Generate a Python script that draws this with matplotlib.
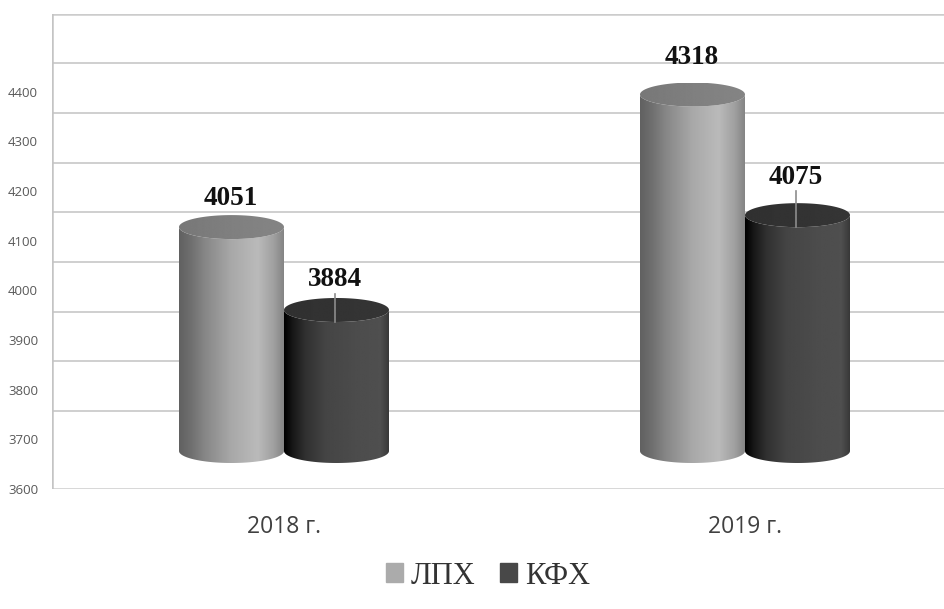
import numpy as np
import matplotlib
matplotlib.use('Agg')
from matplotlib import pyplot as plt
from matplotlib.patches import Patch, PathPatch
from matplotlib.path import Path

categories = ['2018 г.', '2019 г.']
lph = [4051, 4318]
kfh = [3884, 4075]
series_names = ['ЛПХ', 'КФХ']
ticks = [3600, 3700, 3800, 3900, 4000, 4100, 4200, 4300, 4400]

W, H = 945, 609
left, right, top, bottom = 52, 945, 14, 489
units_per_px = 1 / 0.4965
bar_lift = 38 * units_per_px     # bars stand a bit back on the floor
wall_lift = 78 * units_per_px    # back wall grid
ell_h = 24 * units_per_px
bar_w = 105 / 461

light_side = [(0, .38), (.12, .44), (.25, .53), (.5, .66), (.75, .73), (.9, .63), (1, .52)]
dark_side = [(0, .0), (.08, .09), (.2, .19), (.4, .27), (.7, .3), (.92, .31), (1, .22)]
light_top = [(0, .47), (.5, .5), (1, .52)]
dark_top = [(0, .19), (.5, .2), (1, .21)]


def gradient(stops):
    xs = np.linspace(0, 1, 256)
    g = np.interp(xs, [s[0] for s in stops], [s[1] for s in stops])
    return g[np.newaxis, :]


def half_ellipse(xc, y, rx, ry, a0, a1, n=60):
    t = np.linspace(a0, a1, n)
    return np.column_stack([xc + rx * np.cos(t), y + ry * np.sin(t)])


def cylinder(ax, xc, value, side, cap):
    base = 3600 + bar_lift
    y1 = value + bar_lift
    rx, ry = bar_w / 2, ell_h / 2
    # side wall: top arc is hidden under the cap, bottom arc bulges down
    pts = np.vstack([half_ellipse(xc, base, rx, ry, np.pi, 2 * np.pi),
                     [[xc + rx, y1]],
                     half_ellipse(xc, y1, rx, ry, 0, -np.pi),
                     [[xc - rx, base]]])
    clip = PathPatch(Path(pts), fc='none', ec='none', transform=ax.transData)
    ax.add_patch(clip)
    im = ax.imshow(gradient(side), cmap='gray', vmin=0, vmax=1, aspect='auto', zorder=3,
                   extent=[xc - rx, xc + rx, base - ry, y1 + ry], interpolation='bilinear')
    im.set_clip_path(clip)
    pts = half_ellipse(xc, y1, rx, ry, 0, 2 * np.pi, 120)
    clip2 = PathPatch(Path(pts), fc='none', ec='none', transform=ax.transData)
    ax.add_patch(clip2)
    im2 = ax.imshow(gradient(cap), cmap='gray', vmin=0, vmax=1, aspect='auto', zorder=4,
                    extent=[xc - rx, xc + rx, y1 - ry, y1 + ry], interpolation='bilinear')
    im2.set_clip_path(clip2)


fig = plt.figure(figsize=(W / 100, H / 100), dpi=100)
ax = fig.add_axes([left / W, 1 - bottom / H, (right - left) / W, (bottom - top) / H])
x0 = (left - 284) / 461
x1 = (right - 284) / 461
y_top = 3600 + (bottom - top) * units_per_px

for t in ticks:
    ax.axhline(t + wall_lift, color='#cccccc', lw=1.3, zorder=1)
ax.axhline(y_top, color='#cccccc', lw=1.8, zorder=1)
ax.axhline(3600, color='#cccccc', lw=1.8, zorder=1)
ax.axvline(x0, color='#c4c4c4', lw=1.8, zorder=1)

label_gap = [[29, 37], [30, 38]]
for i in range(len(categories)):
    cylinder(ax, i - bar_w / 2, lph[i], light_side, light_top)
    cylinder(ax, i + bar_w / 2, kfh[i], dark_side, dark_top)
    ax.text(i - bar_w / 2 - 0.002, lph[i] + bar_lift + label_gap[0][i] * units_per_px, str(lph[i]),
            family='Liberation Serif', weight='bold', fontsize=19.5, color='#111111',
            ha='center', va='center', zorder=6)
    ax.text(i + bar_w / 2 - 0.004, kfh[i] + bar_lift + label_gap[1][i] * units_per_px, str(kfh[i]),
            family='Liberation Serif', weight='bold', fontsize=19.5, color='#111111',
            ha='center', va='center', zorder=6)
    # leader line from the label down to the cap
    ax.plot([i + bar_w / 2 - 0.003] * 2,
            [kfh[i] + bar_lift - 12 * units_per_px, kfh[i] + bar_lift + (label_gap[1][i] - 14) * units_per_px],
            color='#8c8c8c', lw=1.2, zorder=5)

ax.set_xlim(x0, x1)
ax.set_ylim(3600, y_top)
for s in ax.spines.values():
    s.set_visible(False)
ax.set_yticks(ticks)
ax.set_yticklabels([str(t) for t in ticks], family='Open Sans', fontsize=9.5, color='#595959')
ax.set_xticks(range(len(categories)))
ax.set_xticklabels(categories, family='Open Sans', fontsize=16.5, color='#404040')
ax.tick_params(axis='y', length=0, pad=10)
ax.tick_params(axis='x', length=0, pad=19)

handles = [Patch(color='#ababab'), Patch(color='#484848')]
fig.legend(handles, series_names, loc='center', bbox_to_anchor=(488 / W, 1 - 576 / H), ncol=2,
           frameon=False, handlelength=0.56, handleheight=0.56, handletextpad=0.25,
           columnspacing=0.8, prop={'family': 'Liberation Serif', 'size': 22}, labelcolor='#333333')

fig.savefig('out.png', dpi=100)
